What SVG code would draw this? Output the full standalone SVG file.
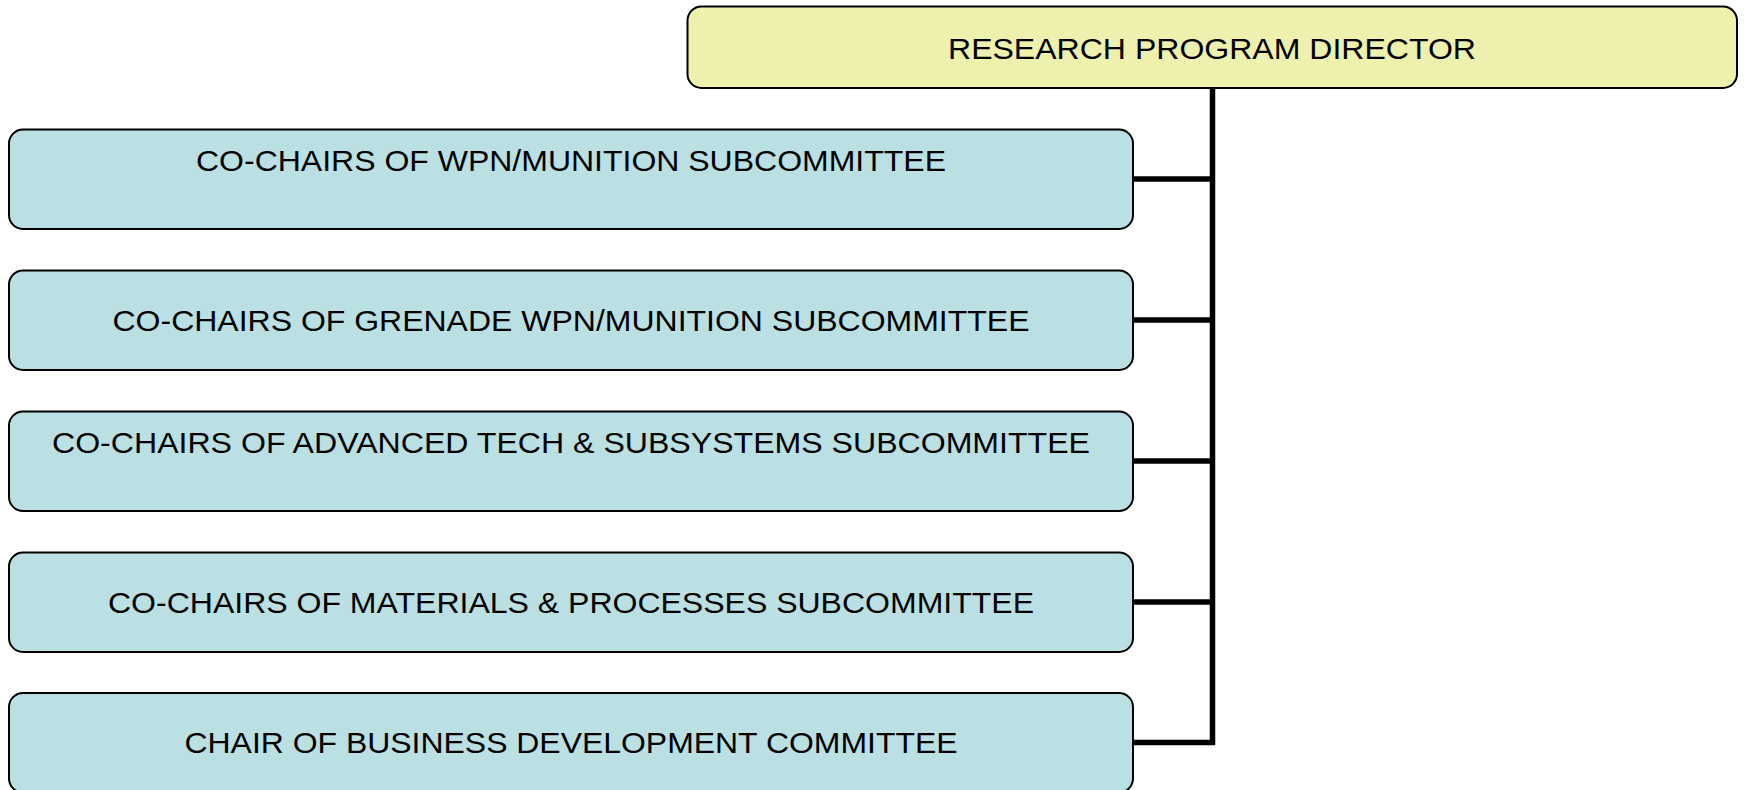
<svg xmlns="http://www.w3.org/2000/svg" width="1745" height="790" viewBox="0 0 1745 790">
<style>
.box{stroke:#000;stroke-width:2}
.dir{fill:#EEF0AE}
.sub{fill:#BAE0E3}
.lbl{font-family:"Liberation Sans",Arial,sans-serif;font-size:30px;fill:#000;text-anchor:middle}
.conn{fill:none;stroke:#000;stroke-width:5.5;stroke-linejoin:miter;stroke-linecap:butt}
</style>
<rect x="0" y="0" width="1745" height="790" fill="#fff"/>
<g id="connectors">
<path class="conn" d="M1212.5 88 V742.5 H1133"/>
<path class="conn" d="M1133 179 H1212.5"/>
<path class="conn" d="M1133 320 H1212.5"/>
<path class="conn" d="M1133 461 H1212.5"/>
<path class="conn" d="M1133 602 H1212.5"/>
</g>
<g id="director">
<rect class="box dir" x="687.5" y="6.5" width="1049.5" height="81.5" rx="14"/>
<text class="lbl" x="1212" y="59" textLength="528" lengthAdjust="spacingAndGlyphs">RESEARCH PROGRAM DIRECTOR</text>
</g>
<g id="wpn">
<rect class="box sub" x="9" y="129.5" width="1124" height="99.5" rx="14"/>
<text class="lbl" x="571" y="171" textLength="750" lengthAdjust="spacingAndGlyphs">CO-CHAIRS OF WPN/MUNITION SUBCOMMITTEE</text>
</g>
<g id="grenade">
<rect class="box sub" x="9" y="270.5" width="1124" height="99.5" rx="14"/>
<text class="lbl" x="571" y="331" textLength="917" lengthAdjust="spacingAndGlyphs">CO-CHAIRS OF GRENADE WPN/MUNITION SUBCOMMITTEE</text>
</g>
<g id="advtech">
<rect class="box sub" x="9" y="411.5" width="1124" height="99.5" rx="14"/>
<text class="lbl" x="571" y="453" textLength="1038" lengthAdjust="spacingAndGlyphs">CO-CHAIRS OF ADVANCED TECH &amp; SUBSYSTEMS SUBCOMMITTEE</text>
</g>
<g id="materials">
<rect class="box sub" x="9" y="552.5" width="1124" height="99.5" rx="14"/>
<text class="lbl" x="571" y="612.5" textLength="926" lengthAdjust="spacingAndGlyphs">CO-CHAIRS OF MATERIALS &amp; PROCESSES SUBCOMMITTEE</text>
</g>
<g id="business">
<rect class="box sub" x="9" y="693" width="1124" height="99.5" rx="14"/>
<text class="lbl" x="571" y="753" textLength="773" lengthAdjust="spacingAndGlyphs">CHAIR OF BUSINESS DEVELOPMENT COMMITTEE</text>
</g>
</svg>
